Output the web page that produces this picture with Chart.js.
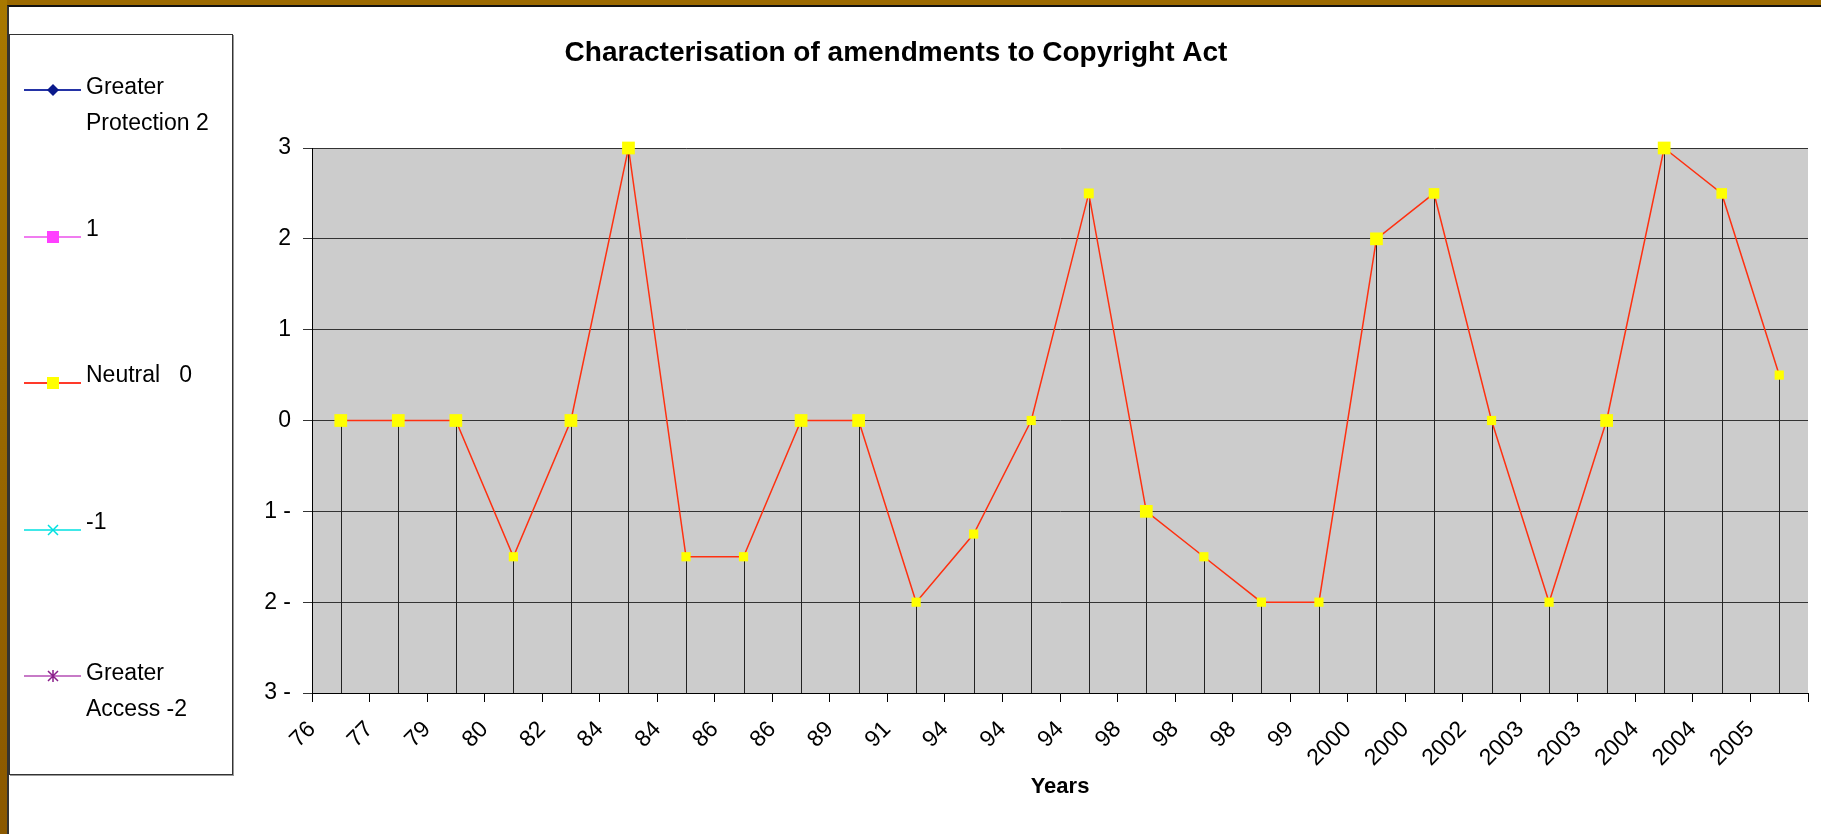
<!DOCTYPE html>
<html>
<head>
<meta charset="utf-8">
<script src="https://cdn.jsdelivr.net/npm/chart.js@4"></script>
<style>
  body { margin: 0; width: 1821px; height: 834px; overflow: hidden; background: #fff; position: relative; font-family: "Liberation Sans", Arial, sans-serif; }
  #goldTop { position: absolute; left: 0; top: 0; width: 1821px; height: 5px; background: #9c6a00; }
  #goldLeft { position: absolute; left: 0; top: 0; width: 7px; height: 834px; background: linear-gradient(#a87800, #8a5800); }
  #frame { position: absolute; left: 7px; top: 5px; width: 1814px; height: 829px; border-top: 2px solid #111; border-left: 2px solid #333; box-sizing: border-box; }
  #chart { position: absolute; left: 0; top: 0; }
  #legend { position: absolute; left: 9px; top: 34px; width: 222px; height: 739px; border: 1px solid #333; box-shadow: 1px 1px 0 #999; background: #fff; z-index: 2; }
  .item-line { position: absolute; left: 14px; width: 57px; height: 2px; }
  .item-mark { position: absolute; left: 36px; width: 14px; height: 14px; }
  .item-text { position: absolute; left: 76px; font-size: 23px; line-height: 36px; white-space: pre; color: #000; }
</style>
</head>
<body>
<div id="goldTop"></div>
<div id="goldLeft"></div>
<div id="frame"></div>
<canvas id="chart" width="1821" height="834"></canvas>
<div id="legend"></div>
<script>
// amendment years (as printed on the axis) and their score
const years = ["76", "77", "79", "80", "82", "84", "84", "86", "86", "89", "91", "94", "94",
  "94", "98", "98", "98", "99", "2000", "2000", "2002", "2003", "2003", "2004", "2004", "2005"];
const scores = [0, 0, 0, -1.5, 0, 3, -1.5, -1.5, 0, 0, -2, -1.25, 0,
  2.5, -1, -1.5, -2, -2, 2, 2.5, 0, -2, 0, 3, 2.5, 0.5];
const yTickLabels = { "-3": "3 -", "-2": "2 -", "-1": "1 -", "0": "0", "1": "1", "2": "2", "3": "3" };

const legendLabels = ["Greater\nProtection 2", "1", "Neutral   0", "-1", "Greater\nAccess -2"];
const legendLineColors = ["#2433a6", "#f07cf0", "#ff3a2a", "#40e8e8", "#c77ac7"];
const legendMarkColors = ["#0a1a8c", "#ff40ff", "#ffff00", "#00e0e0", "#8a1f8a"];
const legendMarks = ["diamond", "square", "square", "cross", "star"];

const titleText = "Characterisation of amendments to Copyright Act";
const fontFamily = '"Liberation Sans", Arial, sans-serif';
// excel drew some markers bigger than others
const markerRadius = [9, 9, 9, 6.5, 9, 9, 6.5, 6.5, 9, 9, 6.5, 6.5, 6.5,
  7, 9, 6.5, 6.5, 6.5, 9, 7.5, 6.5, 6.5, 9, 9, 7.5, 6.5];

function markSvg(kind, color) {
  let shape = "";
  if (kind === "diamond") shape = `<polygon points="7,1 13,7 7,13 1,7" fill="${color}"/>`;
  if (kind === "square") shape = `<rect x="1" y="1" width="12" height="12" fill="${color}"/>`;
  if (kind === "cross") shape = `<path d="M2,2 L12,12 M12,2 L2,12" stroke="${color}" stroke-width="1.5"/>`;
  if (kind === "star") shape = `<path d="M2,2 L12,12 M12,2 L2,12 M7,1 L7,13" stroke="${color}" stroke-width="1.5"/>`;
  return `<svg width="14" height="14" viewBox="0 0 14 14">${shape}</svg>`;
}

const legend = document.getElementById("legend");
legendLabels.forEach((label, i) => {
  const lineY = 55 + i * 146.5;
  const line = document.createElement("div");
  line.className = "item-line";
  line.style.top = (lineY - 1) + "px";
  line.style.background = legendLineColors[i];
  legend.appendChild(line);

  const mark = document.createElement("div");
  mark.className = "item-mark";
  mark.style.top = (lineY - 7) + "px";
  mark.innerHTML = markSvg(legendMarks[i], legendMarkColors[i]);
  legend.appendChild(mark);

  const text = document.createElement("div");
  text.className = "item-text";
  text.style.top = (lineY - (label.includes("\n") ? 22 : 27)) + "px";
  text.textContent = label;
  legend.appendChild(text);
});

const plotBackground = {
  id: "plotBackground",
  beforeDraw(chart) {
    const { ctx, chartArea } = chart;
    ctx.save();
    ctx.fillStyle = "#cccccc";
    ctx.fillRect(chartArea.left, chartArea.top, chartArea.right - chartArea.left, chartArea.bottom - chartArea.top);
    ctx.restore();
  },
};

// vertical drop line from every point down to the axis
const dropLines = {
  id: "dropLines",
  beforeDatasetsDraw(chart) {
    const { ctx, chartArea } = chart;
    const meta = chart.getDatasetMeta(0);
    ctx.save();
    ctx.strokeStyle = "#222";
    ctx.lineWidth = 1;
    for (const point of meta.data) {
      const x = Math.round(point.x) + 0.5;
      ctx.beginPath();
      ctx.moveTo(x, point.y);
      ctx.lineTo(x, chartArea.bottom);
      ctx.stroke();
    }
    ctx.restore();
  },
};

const chartTitle = {
  id: "chartTitle",
  afterDraw(chart) {
    const { ctx } = chart;
    ctx.save();
    ctx.font = "bold 28px " + fontFamily;
    ctx.fillStyle = "#000";
    ctx.textAlign = "center";
    ctx.textBaseline = "middle";
    ctx.fillText(titleText, 896, 53);
    ctx.restore();
  },
};

new Chart(document.getElementById("chart"), {
  type: "line",
  data: {
    datasets: [
      {
        label: "Neutral 0",
        data: scores.map((v, i) => ({ x: i + 0.5, y: v })),
        borderColor: "#ff3010",
        borderWidth: 1.5,
        tension: 0,
        clip: false,
        pointStyle: "rect",
        pointRadius: markerRadius,
        pointBackgroundColor: "#ffff00",
        pointBorderColor: "#ffff00",
        pointBorderWidth: 0,
      },
    ],
  },
  options: {
    responsive: false,
    animation: false,
    layout: { padding: { top: 148, left: 0, right: 13, bottom: 0 } },
    plugins: {
      legend: { display: false },
      tooltip: { enabled: false },
      title: { display: false },
    },
    scales: {
      x: {
        type: "linear",
        min: 0,
        max: years.length,
        afterFit: (scale) => {
          scale.height = 141;
          scale.paddingRight = 0;
        },
        ticks: {
          stepSize: 1,
          autoSkip: false,
          maxRotation: 45,
          minRotation: 45,
          padding: 14,
          color: "#000",
          font: { family: fontFamily, size: 23 },
          callback: (value) => years[value] ?? "",
        },
        grid: { drawOnChartArea: false, tickLength: 9, color: "#000" },
        border: { color: "#000" },
        title: {
          display: true,
          text: "Years",
          color: "#000",
          font: { family: fontFamily, size: 22, weight: "bold" },
          padding: { top: 0, bottom: 34 },
        },
      },
      y: {
        min: -3,
        max: 3,
        afterFit: (scale) => { scale.width = 312; },
        ticks: {
          stepSize: 1,
          padding: 12,
          color: "#000",
          font: { family: fontFamily, size: 23 },
          callback: (value) => yTickLabels[value] ?? "",
        },
        grid: { color: "#333", tickLength: 9 },
        border: { color: "#000" },
      },
    },
  },
  plugins: [plotBackground, dropLines, chartTitle],
});
</script>
</body>
</html>
